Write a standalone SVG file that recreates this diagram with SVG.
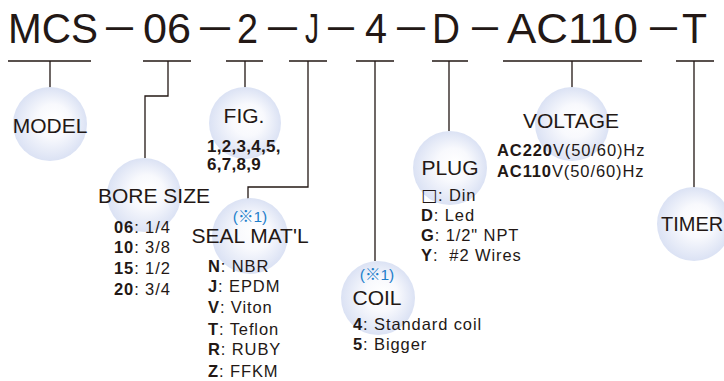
<svg xmlns="http://www.w3.org/2000/svg" width="724" height="381" viewBox="0 0 724 381">
  <defs>
    <radialGradient id="bubble" cx="0.5" cy="0.5" r="0.5" fx="0.58" fy="0.42">
      <stop offset="0" stop-color="#ffffff"/>
      <stop offset="0.45" stop-color="#f8f9fd"/>
      <stop offset="1" stop-color="#dbe2f4"/>
    </radialGradient>
    <style>
      .title { font-family: "Liberation Sans", Arial, sans-serif; font-size: 42px; fill: #231815; }
      .dash { font-family: "Liberation Sans", Arial, sans-serif; font-size: 42px; fill: #231815; }
      .lbl { font-family: "Liberation Sans", Arial, sans-serif; font-size: 21px; fill: #231815; }
      .lst { font-family: "Liberation Sans", Arial, "DejaVu Sans", sans-serif; font-size: 16.5px; fill: #231815; letter-spacing: 0.9px; white-space: pre; }
      .k { font-weight: bold; }
      .box { font-family: "DejaVu Sans", sans-serif; font-size: 17px; }
      .note { font-family: "Liberation Sans", "DejaVu Sans", sans-serif; font-size: 15.5px; fill: #1e7fcb; }
      .ref { font-family: "Noto Sans CJK JP", "DejaVu Sans", sans-serif; }
      .bub { fill: url(#bubble); }
      .conn { fill: none; stroke: #231815; stroke-width: 1.3; }
    </style>
  </defs>
  <rect width="724" height="381" fill="#ffffff"/>

  <g id="title">
    <text class="title" x="8" y="43" textLength="90" lengthAdjust="spacingAndGlyphs">MCS</text>
    <text class="dash" x="106" y="39" textLength="27" lengthAdjust="spacingAndGlyphs">–</text>
    <text class="title" x="143" y="43" textLength="48" lengthAdjust="spacingAndGlyphs">06</text>
    <text class="dash" x="200" y="39" textLength="30" lengthAdjust="spacingAndGlyphs">–</text>
    <text class="title" x="237" y="43" textLength="21" lengthAdjust="spacingAndGlyphs">2</text>
    <text class="dash" x="268" y="39" textLength="29" lengthAdjust="spacingAndGlyphs">–</text>
    <text class="title" x="305" y="43" textLength="14" lengthAdjust="spacingAndGlyphs">J</text>
    <text class="dash" x="328" y="39" textLength="26" lengthAdjust="spacingAndGlyphs">–</text>
    <text class="title" x="365" y="43" textLength="22" lengthAdjust="spacingAndGlyphs">4</text>
    <text class="dash" x="397" y="39" textLength="28" lengthAdjust="spacingAndGlyphs">–</text>
    <text class="title" x="432" y="43" textLength="28" lengthAdjust="spacingAndGlyphs">D</text>
    <text class="dash" x="472" y="39" textLength="26" lengthAdjust="spacingAndGlyphs">–</text>
    <text class="title" x="507" y="43" textLength="131" lengthAdjust="spacingAndGlyphs">AC110</text>
    <text class="dash" x="650" y="39" textLength="27" lengthAdjust="spacingAndGlyphs">–</text>
    <text class="title" x="682" y="43" textLength="25" lengthAdjust="spacingAndGlyphs">T</text>
  </g>

  <g id="connectors">
    <path class="conn" d="M8 61 H91 M50 61 V88"/>
    <path class="conn" d="M143 61 H191 M168 61 V96 H145 V158"/>
    <path class="conn" d="M226 61 H263 M245 61 V88"/>
    <path class="conn" d="M289 61 H327 M308 61 V187 H248 V199"/>
    <path class="conn" d="M356 61 H394 M375 61 V261"/>
    <path class="conn" d="M432 61 H468 M449 61 V131"/>
    <path class="conn" d="M503 61 H642 M572 61 V88"/>
    <path class="conn" d="M676 61 H714 M694 61 V188"/>
  </g>

  <g id="model">
    <circle class="bub" cx="50" cy="124" r="37"/>
    <text class="lbl" x="50" y="133" text-anchor="middle">MODEL</text>
  </g>

  <g id="bore-size">
    <circle class="bub" cx="144" cy="195" r="37"/>
    <text class="lbl" x="98" y="203">BORE SIZE</text>
    <text class="lst" x="114" y="233"><tspan class="k">06</tspan>: 1/4</text>
    <text class="lst" x="114" y="253"><tspan class="k">10</tspan>: 3/8</text>
    <text class="lst" x="114" y="274"><tspan class="k">15</tspan>: 1/2</text>
    <text class="lst" x="114" y="295"><tspan class="k">20</tspan>: 3/4</text>
  </g>

  <g id="fig">
    <circle class="bub" cx="245" cy="123" r="36"/>
    <text class="lbl" x="244" y="123" text-anchor="middle">FIG.</text>
    <text class="lst k" x="207" y="152" style="font-size:17px;letter-spacing:0.3px">1,2,3,4,5,</text>
    <text class="lst k" x="207" y="170" style="font-size:17px;letter-spacing:0.3px">6,7,8,9</text>
  </g>

  <g id="seal-matl">
    <circle class="bub" cx="250" cy="236" r="38"/>
    <text class="note" x="250" y="222" text-anchor="middle">(<tspan class="ref">※</tspan>1)</text>
    <text class="lbl" x="250" y="243" text-anchor="middle">SEAL MAT'L</text>
    <text class="lst" x="208" y="272"><tspan class="k">N</tspan>: NBR</text>
    <text class="lst" x="208" y="292"><tspan class="k">J</tspan>: EPDM</text>
    <text class="lst" x="208" y="313"><tspan class="k">V</tspan>: Viton</text>
    <text class="lst" x="208" y="335"><tspan class="k">T</tspan>: Teflon</text>
    <text class="lst" x="208" y="355"><tspan class="k">R</tspan>: RUBY</text>
    <text class="lst" x="208" y="377"><tspan class="k">Z</tspan>: FFKM</text>
  </g>

  <g id="coil">
    <circle class="bub" cx="378" cy="298" r="37"/>
    <text class="note" x="377" y="280" text-anchor="middle">(<tspan class="ref">※</tspan>1)</text>
    <text class="lbl" x="377" y="305" text-anchor="middle">COIL</text>
    <text class="lst" x="353" y="330"><tspan class="k">4</tspan>: Standard coil</text>
    <text class="lst" x="353" y="350"><tspan class="k">5</tspan>: Bigger</text>
  </g>

  <g id="plug">
    <circle class="bub" cx="450" cy="168" r="37"/>
    <text class="lbl" x="450" y="175" text-anchor="middle">PLUG</text>
    <text class="lst" x="421" y="201"><tspan class="box">□</tspan>: Din</text>
    <text class="lst" x="421" y="221"><tspan class="k">D</tspan>: Led</text>
    <text class="lst" x="421" y="241"><tspan class="k">G</tspan>: 1/2" NPT</text>
    <text class="lst" x="421" y="261"><tspan class="k">Y</tspan>:  #2 Wires</text>
  </g>

  <g id="voltage">
    <circle class="bub" cx="572" cy="124" r="37"/>
    <text class="lbl" x="571" y="128" text-anchor="middle">VOLTAGE</text>
    <text class="lst" x="497" y="156"><tspan class="k">AC220</tspan>V(50/60)Hz</text>
    <text class="lst" x="497" y="177"><tspan class="k">AC110</tspan>V(50/60)Hz</text>
  </g>

  <g id="timer">
    <circle class="bub" cx="694" cy="224" r="37"/>
    <text class="lbl" x="661" y="231" style="font-size:20px">TIMER</text>
  </g>
</svg>
